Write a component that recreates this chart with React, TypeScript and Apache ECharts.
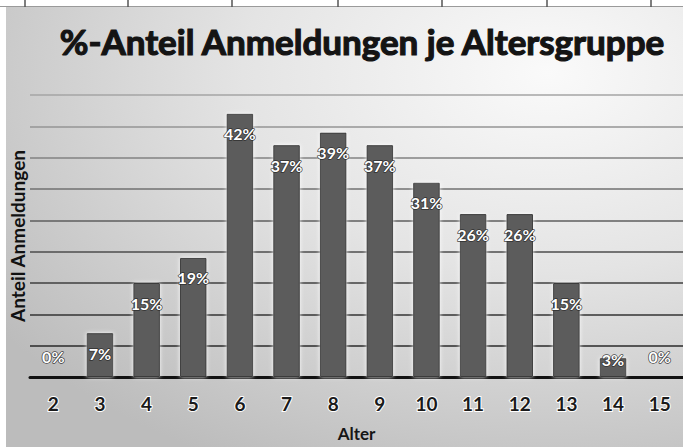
import React, { useEffect, useRef } from "react";
import * as echarts from "echarts";

const ages = ["2", "3", "4", "5", "6", "7", "8", "9", "10", "11", "12", "13", "14", "15"];
const shares = [0, 7, 15, 19, 42, 37, 39, 37, 31, 26, 26, 15, 3, 0];
const titleText = "%-Anteil Anmeldungen je Altersgruppe";
const xName = "Alter";
const yName = "Anteil Anmeldungen";
const yMax = 45;
const yStep = 5;
const cellLines = [25, 128, 232, 338, 442, 547, 651];

const FONT = "Lato, 'Open Sans', sans-serif";

export default function App() {
  const ref = useRef<HTMLDivElement>(null);
  useEffect(() => {
    if (!ref.current) return;
    const chart = echarts.init(ref.current, undefined, { renderer: "svg" });

    const data = shares.map((v) => {
      if (v === 0) {
        return { value: v, label: { position: "top", distance: 12 } };
      }
      if (v < 5) {
        return { value: v, label: { position: "top", distance: -9 } };
      }
      return { value: v };
    });

    const graphics: any[] = [
      { type: "rect", shape: { x: 0, y: 0, width: 683, height: 7 }, style: { fill: "#ffffff" }, z: -10, silent: true },
      {
        type: "rect",
        shape: { x: 6, y: 7, width: 677, height: 440 },
        style: {
          fill: new echarts.graphic.RadialGradient(0.8, 0.15, 1.0, [
            { offset: 0, color: "#fafafa" },
            { offset: 0.45, color: "#e4e4e4" },
            { offset: 1, color: "#bcbcbc" },
          ]),
        },
        z: -10,
        silent: true,
      },
      { type: "line", shape: { x1: 0, y1: 6.5, x2: 683, y2: 6.5 }, style: { stroke: "#9a9a9a", lineWidth: 1 }, z: -9, silent: true },
      ...cellLines.map((x) => ({
        type: "line",
        shape: { x1: x, y1: 0, x2: x, y2: 7 },
        style: { stroke: "#555", lineWidth: 1.5 },
        z: -9,
        silent: true,
      })),
    ];

    chart.setOption({
      animation: false,
      textStyle: { fontFamily: FONT },
      title: {
        text: titleText,
        left: 357,
        top: 18,
        textAlign: "center",
        textStyle: {
          fontFamily: FONT,
          fontSize: 35,
          fontWeight: "bold",
          color: "#141414",
          textBorderColor: "#141414",
          textBorderWidth: 1.2,
        },
      },
      graphic: graphics,
      grid: { left: 27, top: 95, width: 658, height: 285, containLabel: false },
      xAxis: {
        type: "category",
        data: ages,
        name: xName,
        nameLocation: "middle",
        nameGap: 48,
        nameTextStyle: { fontFamily: FONT, fontSize: 17, fontWeight: "bold", color: "#161616" },
        axisLine: { show: true, lineStyle: { color: "#111", width: 3 } },
        axisTick: { show: false },
        axisLabel: {
          margin: 17,
          fontFamily: FONT,
          fontSize: 19,
          fontWeight: "bold",
          color: "#1a1a1a",
          textBorderColor: "#ffffff",
          textBorderWidth: 2,
        },
      },
      yAxis: {
        type: "value",
        min: 0,
        max: yMax,
        interval: yStep,
        name: yName,
        nameLocation: "middle",
        nameRotate: 90,
        nameGap: 3,
        nameTextStyle: { fontFamily: FONT, fontSize: 19, fontWeight: "bold", color: "#111" },
        axisLine: { show: false },
        axisTick: { show: false },
        axisLabel: { show: false },
        splitLine: {
          show: true,
          lineStyle: {
            color: ["#222", "#2a2a2a", "#333", "#3f3f3f", "#4d4d4d", "#5e5e5e", "#707070", "#828282", "#949494", "#a4a4a4"],
            width: 1.6,
          },
        },
      },
      series: [
        {
          type: "bar",
          data,
          barWidth: "57%",
          itemStyle: {
            color: "#5c5c5c",
            borderColor: "#3a3a3a",
            borderWidth: 1,
            shadowColor: "rgba(255,255,255,0.95)",
            shadowBlur: 4,
          },
          label: {
            show: true,
            position: "insideTop",
            distance: 12,
            formatter: "{c}%",
            fontFamily: FONT,
            fontSize: 16,
            fontWeight: "bold",
            color: "#ffffff",
            textBorderColor: "rgba(40,40,40,0.85)",
            textBorderWidth: 1.5,
          },
        },
      ],
    });
    return () => chart.dispose();
  }, []);
  return (
    <div
      ref={ref}
      style={{ position: "absolute", left: 0, top: 0, width: 683, height: 447, background: "#ffffff" }}
    />
  );
}
